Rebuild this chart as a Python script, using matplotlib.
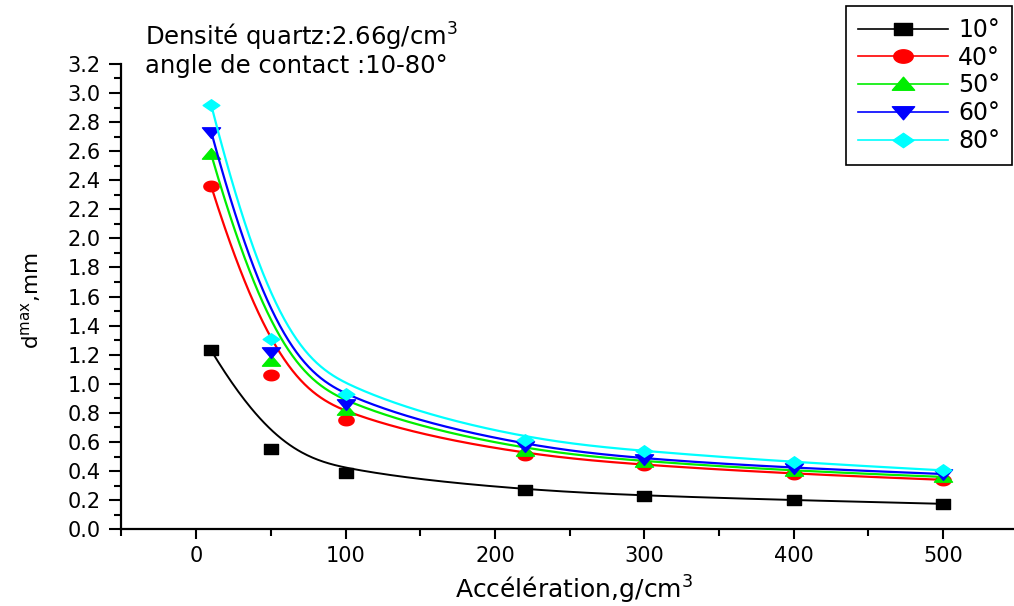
import numpy as np
import matplotlib
matplotlib.use("Agg")
import matplotlib.pyplot as plt
from matplotlib.path import Path

# ======================================
# DONNEES
# ======================================
acc = [10, 50, 100, 220, 300, 400, 500]
d_10 = [1.23, 0.55, 0.39, 0.27, 0.23, 0.20, 0.175]
d_40 = [2.36, 1.06, 0.75, 0.51, 0.44, 0.38, 0.34]
d_50 = [2.58, 1.16, 0.82, 0.54, 0.465, 0.40, 0.36]
d_60 = [2.735, 1.22, 0.86, 0.57, 0.48, 0.42, 0.38]
d_80 = [2.92, 1.31, 0.93, 0.615, 0.535, 0.46, 0.405]

labels = ["10°", "40°", "50°", "60°", "80°"]
couleurs = ["black", "red", "#00ee00", "blue", "cyan"]

# marqueurs un peu "ecrases" comme sur l'original
k_ = 1.45
th = np.linspace(0, 2 * np.pi, 40)
m_carre = Path([(-k_, -1), (k_, -1), (k_, 1), (-k_, 1), (-k_, -1)], closed=True)
m_rond = Path(np.column_stack([k_ * np.cos(th), np.sin(th)]), closed=True)
m_haut = Path([(-k_, -0.75), (k_, -0.75), (0, 0.95), (-k_, -0.75)], closed=True)
m_bas = Path([(-k_, 0.75), (k_, 0.75), (0, -0.95), (-k_, 0.75)], closed=True)
m_losange = Path([(-k_, 0), (0, 1), (k_, 0), (0, -1), (-k_, 0)], closed=True)
marqueurs = [m_carre, m_rond, m_haut, m_bas, m_losange]
tailles = [10, 11, 13, 13, 12]


# ligne "B-spline" (comme Origin) : passe par le premier et le dernier point
def bspline(xs, ys, k=3, n=400):
    P = np.column_stack([xs, ys]).astype(float)
    m = len(P)
    knots = np.concatenate([np.zeros(k), np.linspace(0, 1, m - k + 1), np.ones(k)])
    res = []
    for t in np.linspace(0, 1, n):
        if t >= 1.0:
            res.append(P[-1])
            continue
        s = np.searchsorted(knots, t, side="right") - 1
        d = [P[j + s - k].copy() for j in range(k + 1)]
        for r in range(1, k + 1):
            for j in range(k, r - 1, -1):
                i = j + s - k
                a = (t - knots[i]) / (knots[i + 1 + k - r] - knots[i])
                d[j] = (1 - a) * d[j - 1] + a * d[j]
        res.append(d[k])
    res = np.array(res)
    return res[:, 0], res[:, 1]


plt.rcParams["font.family"] = ["DejaVu Sans"]
plt.rcParams["mathtext.fontset"] = "dejavusans"

fig = plt.figure(figsize=(10.14, 6.06), dpi=100)
ax = fig.add_axes([0.1198, 0.1266, 0.884, 0.768])

series = [d_10, d_40, d_50, d_60, d_80]
for y, lab, c, m, ms in zip(series, labels, couleurs, marqueurs, tailles):
    bx, by = bspline(acc, y)
    ax.plot(bx, by, color=c, lw=1.6 if c != "black" else 1.4)
    ax.plot(acc, y, linestyle="none", marker=m, color=c, ms=ms, mec=c)
    # entree de legende
    ax.plot([], [], color=c, lw=1.2, marker=m, ms=ms + 3, mec=c, label=lab)

ax.set_xlim(-50, 550)
ax.set_ylim(0, 3.2)
ax.set_xticks([0, 100, 200, 300, 400, 500])
ax.set_xticks(np.arange(-50, 551, 50), minor=True)
ax.set_yticks(np.arange(0, 3.21, 0.2))
ax.set_yticks(np.arange(0, 3.21, 0.1), minor=True)
ax.set_yticklabels([f"{v:.1f}" for v in np.arange(0, 3.21, 0.2)])

for s in ["top", "right"]:
    ax.spines[s].set_visible(False)
ax.spines["left"].set_linewidth(1.6)
ax.spines["bottom"].set_linewidth(1.6)
ax.tick_params(axis="y", which="major", length=9, width=1.5, pad=6, labelsize=15)
ax.tick_params(axis="y", which="minor", length=5, width=1.5)
ax.tick_params(axis="x", which="major", length=7, width=1.5, pad=5, labelsize=15)
ax.tick_params(axis="x", which="minor", length=5, width=1.5)

ax.set_xlabel("Accélération,g/cm$^3$", fontsize=18)
ax.xaxis.set_label_coords(0.505, -0.095)
ax.set_ylabel(r"d$^{\mathregular{max}}$,mm", fontsize=15.5)
ax.yaxis.set_label_coords(-0.088, 0.49)

fig.text(145 / 1014, 1 - 46 / 606, "Densité quartz:2.66g/cm$^3$", fontsize=17.5, va="baseline")
fig.text(145 / 1014, 1 - 73 / 606, "angle de contact :10-80°", fontsize=17.5, va="baseline")

leg = ax.legend(loc="upper left", bbox_to_anchor=(846 / 1014, 1 - 6 / 606),
                bbox_transform=fig.transFigure, fontsize=17, frameon=True,
                fancybox=False, framealpha=1, edgecolor="black",
                handlelength=3.8, handletextpad=0.45, labelspacing=0.16,
                borderpad=0.5, borderaxespad=0)
leg.get_frame().set_linewidth(1.2)

fig.savefig("out.png", dpi=100)
